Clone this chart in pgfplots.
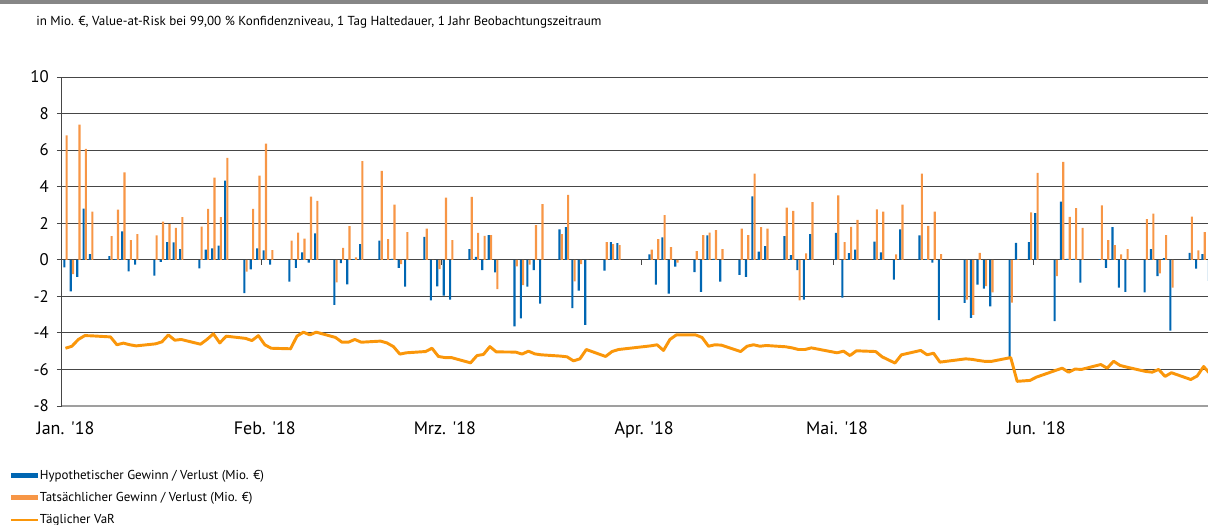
\documentclass[border=0pt]{standalone}
\usepackage{fontspec}
\setmainfont{PT Sans}
\usepackage{pgfplots}
\pgfplotsset{compat=1.18}
\usepackage{pgfplotstable}
\definecolor{hypblue}{RGB}{0,102,178}
\definecolor{actorange}{RGB}{247,150,70}
\definecolor{varorange}{RGB}{250,150,10}
\definecolor{gridc}{RGB}{70,70,70}

\pgfplotstableread{
d hyp act
0 -0.42 6.80
1 -1.73 -0.78
2 -0.93 7.40
3 2.80 6.07
4 0.31 2.64
7 0.20 1.29
8 0.04 2.75
9 1.55 4.78
10 -0.64 1.07
11 -0.27 1.40
14 -0.87 1.33
15 -0.11 2.09
16 0.96 1.95
17 0.95 1.75
18 0.58 2.33
21 -0.47 1.82
22 0.55 2.78
23 0.62 4.50
24 0.78 2.33
25 4.33 5.58
28 -1.82 -0.65
29 -0.53 2.78
30 0.62 4.60
31 0.51 6.35
32 -0.27 0.53
35 -1.20 1.05
36 -0.44 1.49
37 0.40 1.16
38 -0.15 3.45
39 1.45 3.22
42 -2.47 -1.24
43 -0.18 0.65
44 -1.35 1.84
45 0.04 0.13
46 0.85 5.40
49 1.05 4.87
50 0.00 1.13
51 0.05 3.02
52 -0.44 -0.24
53 -1.47 1.51
56 1.25 1.71
57 -2.22 0.00
58 -1.45 -0.51
59 -1.96 3.40
60 -2.18 1.07
63 0.58 3.44
64 0.16 1.47
65 -0.56 1.31
66 1.35 1.35
67 -0.69 -1.60
70 -3.65 -0.36
71 -3.20 -1.38
72 -1.47 -0.27
73 -0.56 1.89
74 -2.40 3.05
77 1.67 1.40
78 1.78 3.55
79 -2.65 -1.18
80 -1.69 -0.24
81 -3.56 0.00
84 -0.60 0.96
85 0.96 0.85
86 0.91 0.80
91 0.29 0.56
92 -1.36 1.13
93 1.22 2.44
94 -1.85 0.69
95 -0.38 -0.15
98 -0.67 0.47
99 -1.75 1.35
100 1.33 1.49
101 0.05 1.62
102 -1.20 0.58
105 -0.82 1.71
106 -0.93 1.35
107 3.47 4.71
108 0.44 1.78
109 0.75 1.71
112 1.29 2.85
113 0.25 2.67
114 -0.56 -2.22
115 -2.18 0.35
116 1.40 3.16
120 1.47 3.53
121 -2.07 0.96
122 0.36 1.80
123 0.55 2.18
126 1.00 2.76
127 0.40 2.64
129 -1.09 0.29
130 1.67 3.02
133 1.33 4.71
134 0.03 1.85
135 -0.16 2.64
136 -3.30 0.31
140 -2.36 -2.18
141 -3.18 -3.02
142 -1.36 0.38
143 -1.58 -1.44
144 -2.55 -1.78
147 -5.33 -2.35
148 0.93 0.02
150 0.96 2.60
151 2.55 4.76
154 -3.36 -0.89
155 3.18 5.36
156 0.05 2.35
157 0.05 2.82
158 -1.25 1.75
161 0.03 2.98
162 -0.44 1.07
163 1.78 0.80
164 -1.53 0.29
165 -1.75 0.58
168 -1.78 2.22
169 0.58 2.53
170 -0.89 -0.75
171 0.09 1.35
172 -3.87 -1.53
175 0.38 2.36
176 -0.49 0.51
177 0.31 1.51
178 -1.15 0.00
}\bars

\pgfplotstableread{
d var
0 -4.84
1 -4.73
2 -4.36
3 -4.15
4 -4.16
7 -4.22
8 -4.65
9 -4.56
10 -4.65
11 -4.71
14 -4.60
15 -4.49
16 -4.11
17 -4.40
18 -4.36
21 -4.62
22 -4.36
23 -4.05
24 -4.55
25 -4.18
28 -4.30
29 -4.42
30 -4.15
31 -4.65
32 -4.84
35 -4.87
36 -4.18
37 -3.96
38 -4.11
39 -3.96
42 -4.25
43 -4.51
44 -4.51
45 -4.36
46 -4.51
49 -4.45
50 -4.55
51 -4.75
52 -5.16
53 -5.09
56 -5.02
57 -4.84
58 -5.29
59 -5.35
60 -5.35
63 -5.64
64 -5.24
65 -5.18
66 -4.75
67 -5.04
70 -5.05
71 -5.16
72 -5.00
73 -5.15
74 -5.20
77 -5.27
78 -5.31
79 -5.53
80 -5.42
81 -4.91
84 -5.29
85 -5.02
86 -4.91
91 -4.71
92 -4.65
93 -4.96
94 -4.36
95 -4.11
98 -4.11
99 -4.25
100 -4.73
101 -4.65
102 -4.67
105 -5.02
106 -4.73
107 -4.65
108 -4.73
109 -4.69
112 -4.76
113 -4.82
114 -4.91
115 -4.91
116 -4.82
120 -5.09
121 -5.00
122 -5.24
123 -4.98
126 -5.02
127 -5.31
129 -5.65
130 -5.20
133 -4.96
134 -5.20
135 -5.11
136 -5.60
140 -5.42
141 -5.45
142 -5.51
143 -5.56
144 -5.56
147 -5.35
148 -6.65
150 -6.60
151 -6.42
154 -6.05
155 -5.93
156 -6.15
157 -5.98
158 -6.00
161 -5.73
162 -5.93
163 -5.55
164 -5.78
165 -5.87
168 -6.11
169 -6.15
170 -6.00
171 -6.38
172 -6.18
175 -6.55
176 -6.36
177 -5.84
178 -6.24
}\vartab

\begin{document}
\begin{tikzpicture}
\useasboundingbox (-46.5pt,-89.25pt) rectangle (859.5pt,304.5pt);
\fill[gray!95] (-46.5pt,304.5pt) rectangle (859.5pt,301.5pt);
\node[anchor=west, inner sep=0pt, font=\fontsize{9.8}{11}\selectfont] at (-19.5pt,288pt)
 {in Mio. €, Value-at-Risk bei 99,00 \% Konfidenzniveau, 1 Tag Haltedauer, 1 Jahr Beobachtungszeitraum};
\begin{axis}[
 at={(0,0)}, anchor=south west,
 scale only axis, width=859.5pt, height=246.75pt,
 xmin=-0.54, xmax=177.68, ymin=-8, ymax=10,
 ytick={-8,-6,...,10},
 xtick={0,31,59,90,120,151},
 xticklabels={Jan. \textquotesingle18, Feb. \textquotesingle18, Mrz. \textquotesingle18, Apr. \textquotesingle18, Mai. \textquotesingle18, Jun. \textquotesingle18},
 axis lines*=left,
 x axis line style={draw=gray!75, line width=1.6pt},
 y axis line style={draw=gridc, line width=0.75pt},
 ymajorgrids, grid style={draw=gridc, line width=0.7pt},
 xtick style={draw=none},
 ytick style={draw=gridc, line width=0.7pt},
 tick align=outside, major tick length=3.75pt,
 /pgf/number format/assume math mode=true,
 yticklabel style={font=\fontsize{12.6}{13}\selectfont, inner sep=0pt, xshift=-6pt},
 xticklabel style={font=\fontsize{13.5}{14}\selectfont, inner sep=0pt, anchor=north, yshift=-8pt},
 legend style={at={(axis description cs:-0.0454,-0.19)}, anchor=north west, draw=none, fill=none,
   inner sep=0pt, outer sep=0pt, font=\fontsize{9.7}{11}\selectfont, row sep=6.3pt,
   nodes={inner sep=1pt}},
 legend cell align=left,
 clip=true,
]
\addplot[ybar, bar width=1.6pt, bar shift=-0.85pt, fill=hypblue, draw=none,
  legend image code/.code={\fill[hypblue] (0pt,-1.9pt) rectangle (20pt,1.9pt);}]
  table[x=d, y=hyp]{\bars};
\addlegendentry{Hypothetischer Gewinn / Verlust (Mio. €)}
\addplot[ybar, bar width=1.6pt, bar shift=0.85pt, fill=actorange, draw=none,
  legend image code/.code={\fill[actorange] (0pt,-1.9pt) rectangle (20pt,1.9pt);}]
  table[x=d, y=act]{\bars};
\addlegendentry{Tatsächlicher Gewinn / Verlust (Mio. €)}
\addplot[varorange, line width=2.2pt, line join=round, mark=none,
  legend image code/.code={\draw[varorange, line width=1.5pt] (0pt,0pt) -- (20pt,0pt);}]
  table[x=d, y=var]{\vartab};
\addlegendentry{Täglicher VaR}
\pgfplotsinvokeforeach{30.5,58.5,89.5,119.5,150.5}{
  \draw[gridc, line width=0.7pt] (axis cs:#1,0) -- ([yshift=-3.75pt]axis cs:#1,0);
}
\end{axis}
\end{tikzpicture}
\end{document}
